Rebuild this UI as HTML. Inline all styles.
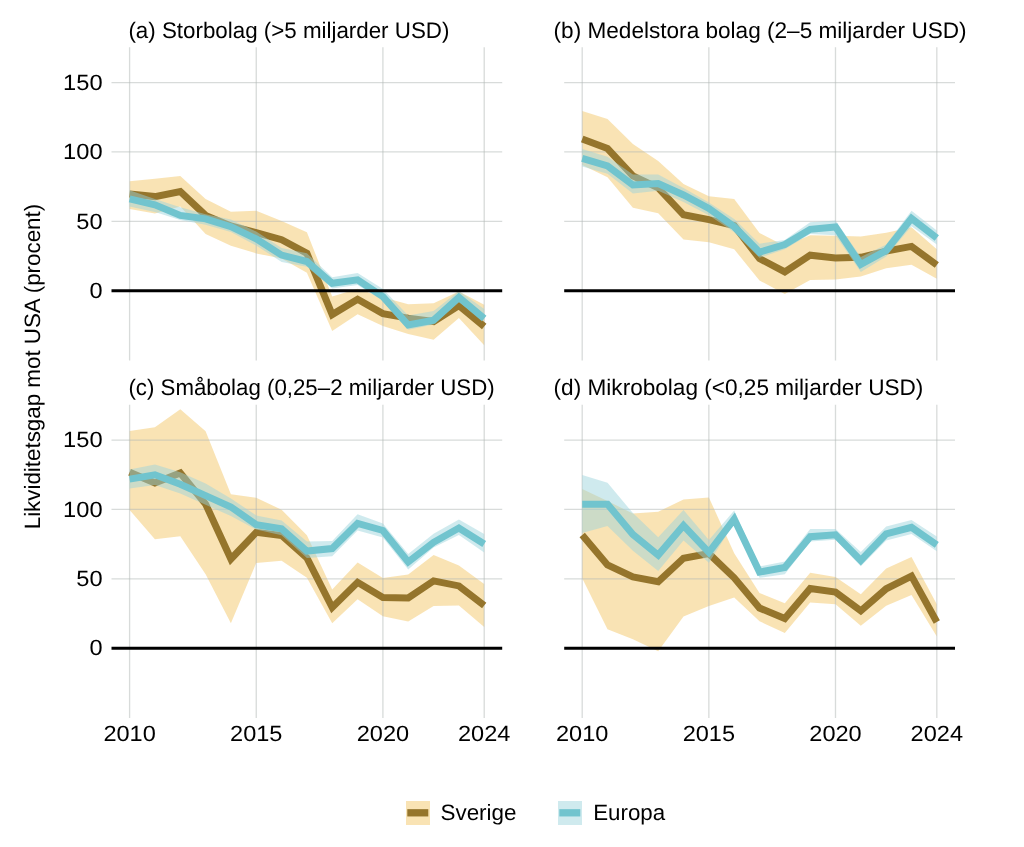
<!DOCTYPE html>
<html><head><meta charset="utf-8"><style>
html,body{margin:0;padding:0;background:#fff;}
svg{display:block;will-change:transform;}
text{font-family:'Liberation Sans',sans-serif;font-size:22.2px;fill:#000;text-rendering:geometricPrecision;}
</style></head><body>
<svg width="1024" height="847" viewBox="0 0 1024 847">
<rect width="1024" height="847" fill="#fff"/>
<polygon points="129.6,181.2 154.9,178.8 180.3,176.1 205.6,199.0 230.9,211.8 256.2,210.8 281.6,221.1 306.9,232.2 332.2,296.6 357.6,288.7 382.9,297.2 408.2,304.2 433.6,303.3 458.9,291.5 484.2,304.7 484.2,345.2 458.9,317.9 433.6,339.8 408.2,334.0 382.9,325.9 357.6,314.2 332.2,331.1 306.9,272.7 281.6,258.6 256.2,253.4 230.9,245.8 205.6,234.1 180.3,206.6 154.9,213.6 129.6,209.0" fill="rgba(242,192,88,0.45)"/>
<line x1="111.5" x2="502.2" y1="82.58" y2="82.58" stroke="rgba(178,184,181,0.5)" stroke-width="1.3"/>
<line x1="111.5" x2="502.2" y1="151.97" y2="151.97" stroke="rgba(178,184,181,0.5)" stroke-width="1.3"/>
<line x1="111.5" x2="502.2" y1="221.36" y2="221.36" stroke="rgba(178,184,181,0.5)" stroke-width="1.3"/>
<line x1="129.60" x2="129.60" y1="47.3" y2="360.4" stroke="rgba(178,184,181,0.5)" stroke-width="1.3"/>
<line x1="256.25" x2="256.25" y1="47.3" y2="360.4" stroke="rgba(178,184,181,0.5)" stroke-width="1.3"/>
<line x1="382.90" x2="382.90" y1="47.3" y2="360.4" stroke="rgba(178,184,181,0.5)" stroke-width="1.3"/>
<line x1="484.22" x2="484.22" y1="47.3" y2="360.4" stroke="rgba(178,184,181,0.5)" stroke-width="1.3"/>
<polyline points="129.6,194.0 154.9,196.6 180.3,191.5 205.6,215.4 230.9,226.0 256.2,232.6 281.6,239.7 306.9,253.3 332.2,314.6 357.6,299.3 382.9,313.6 408.2,318.1 433.6,321.5 458.9,305.6 484.2,326.5" fill="none" stroke="#95752c" stroke-width="7" stroke-linejoin="miter" stroke-miterlimit="10"/>
<polygon points="129.6,190.2 154.9,199.0 180.3,207.2 205.6,214.2 230.9,219.5 256.2,231.5 281.6,247.9 306.9,253.3 332.2,277.2 357.6,273.1 382.9,289.0 408.2,315.4 433.6,311.0 458.9,291.0 484.2,309.1 484.2,320.8 458.9,302.2 433.6,324.5 408.2,329.8 382.9,300.7 357.6,284.9 332.2,288.4 306.9,266.8 281.6,261.9 256.2,245.5 230.9,232.0 205.6,224.8 180.3,220.1 154.9,211.9 129.6,206.6" fill="rgba(155,211,220,0.48)"/>
<polyline points="129.6,198.8 154.9,204.8 180.3,215.4 205.6,218.9 230.9,226.7 256.2,238.9 281.6,255.1 306.9,261.5 332.2,283.3 357.6,279.8 382.9,296.6 408.2,325.0 433.6,320.2 458.9,297.3 484.2,318.5" fill="none" stroke="#71c4ce" stroke-width="7" stroke-linejoin="miter" stroke-miterlimit="10"/>
<line x1="111.5" x2="502.2" y1="290.75" y2="290.75" stroke="#000" stroke-width="3"/>
<polygon points="582.2,111.1 607.5,119.1 632.9,143.9 658.2,160.9 683.5,184.0 708.9,196.2 734.2,199.0 759.5,233.0 784.8,246.0 810.2,235.2 835.5,235.7 860.8,236.5 886.2,232.8 911.5,227.3 936.8,249.3 936.8,278.8 911.5,264.7 886.2,268.2 860.8,276.5 835.5,279.4 810.2,280.0 784.8,294.0 759.5,280.5 734.2,249.3 708.9,242.3 683.5,239.4 658.2,213.3 632.9,207.7 607.5,177.2 582.2,165.0" fill="rgba(242,192,88,0.45)"/>
<line x1="564.2" x2="955.0" y1="82.58" y2="82.58" stroke="rgba(178,184,181,0.5)" stroke-width="1.3"/>
<line x1="564.2" x2="955.0" y1="151.97" y2="151.97" stroke="rgba(178,184,181,0.5)" stroke-width="1.3"/>
<line x1="564.2" x2="955.0" y1="221.36" y2="221.36" stroke="rgba(178,184,181,0.5)" stroke-width="1.3"/>
<line x1="582.20" x2="582.20" y1="47.3" y2="360.4" stroke="rgba(178,184,181,0.5)" stroke-width="1.3"/>
<line x1="708.85" x2="708.85" y1="47.3" y2="360.4" stroke="rgba(178,184,181,0.5)" stroke-width="1.3"/>
<line x1="835.50" x2="835.50" y1="47.3" y2="360.4" stroke="rgba(178,184,181,0.5)" stroke-width="1.3"/>
<line x1="936.82" x2="936.82" y1="47.3" y2="360.4" stroke="rgba(178,184,181,0.5)" stroke-width="1.3"/>
<polyline points="582.2,139.0 607.5,148.5 632.9,175.8 658.2,187.8 683.5,214.8 708.9,219.6 734.2,225.5 759.5,258.6 784.8,271.9 810.2,255.2 835.5,258.0 860.8,257.3 886.2,251.1 911.5,246.4 936.8,265.0" fill="none" stroke="#95752c" stroke-width="7" stroke-linejoin="miter" stroke-miterlimit="10"/>
<polygon points="582.2,148.9 607.5,156.7 632.9,174.4 658.2,174.4 683.5,188.0 708.9,202.6 734.2,218.9 759.5,243.7 784.8,239.9 810.2,222.2 835.5,220.4 860.8,257.0 886.2,244.6 911.5,210.7 936.8,230.4 936.8,244.6 911.5,226.3 886.2,256.4 860.8,272.0 835.5,235.2 810.2,234.0 784.8,249.3 759.5,257.8 734.2,232.3 708.9,215.3 683.5,202.0 658.2,190.7 632.9,193.5 607.5,173.7 582.2,166.6" fill="rgba(155,211,220,0.48)"/>
<polyline points="582.2,158.4 607.5,165.9 632.9,185.0 658.2,183.6 683.5,195.0 708.9,208.5 734.2,226.7 759.5,252.2 784.8,244.6 810.2,229.3 835.5,226.9 860.8,264.5 886.2,250.5 911.5,218.4 936.8,238.0" fill="none" stroke="#71c4ce" stroke-width="7" stroke-linejoin="miter" stroke-miterlimit="10"/>
<line x1="564.2" x2="955.0" y1="290.75" y2="290.75" stroke="#000" stroke-width="3"/>
<polygon points="129.6,430.9 154.9,427.2 180.3,409.2 205.6,431.2 230.9,494.2 256.2,497.7 281.6,509.8 306.9,535.3 332.2,589.5 357.6,562.4 382.9,578.0 408.2,574.6 433.6,555.1 458.9,565.6 484.2,584.0 484.2,627.0 458.9,605.5 433.6,606.0 408.2,621.4 382.9,616.3 357.6,599.3 332.2,623.3 306.9,577.8 281.6,560.8 256.2,562.9 230.9,623.2 205.6,574.3 180.3,536.3 154.9,539.3 129.6,510.0" fill="rgba(242,192,88,0.45)"/>
<line x1="111.5" x2="502.2" y1="440.08" y2="440.08" stroke="rgba(178,184,181,0.5)" stroke-width="1.3"/>
<line x1="111.5" x2="502.2" y1="509.47" y2="509.47" stroke="rgba(178,184,181,0.5)" stroke-width="1.3"/>
<line x1="111.5" x2="502.2" y1="578.86" y2="578.86" stroke="rgba(178,184,181,0.5)" stroke-width="1.3"/>
<line x1="129.60" x2="129.60" y1="404.8" y2="717.9" stroke="rgba(178,184,181,0.5)" stroke-width="1.3"/>
<line x1="256.25" x2="256.25" y1="404.8" y2="717.9" stroke="rgba(178,184,181,0.5)" stroke-width="1.3"/>
<line x1="382.90" x2="382.90" y1="404.8" y2="717.9" stroke="rgba(178,184,181,0.5)" stroke-width="1.3"/>
<line x1="484.22" x2="484.22" y1="404.8" y2="717.9" stroke="rgba(178,184,181,0.5)" stroke-width="1.3"/>
<polyline points="129.6,472.3 154.9,482.9 180.3,473.0 205.6,504.0 230.9,559.0 256.2,532.4 281.6,535.5 306.9,557.9 332.2,607.5 357.6,582.3 382.9,597.6 408.2,598.0 433.6,580.9 458.9,585.9 484.2,605.5" fill="none" stroke="#95752c" stroke-width="7" stroke-linejoin="miter" stroke-miterlimit="10"/>
<polygon points="129.6,469.4 154.9,464.5 180.3,472.3 205.6,483.6 230.9,498.5 256.2,515.4 281.6,520.4 306.9,541.6 332.2,541.0 357.6,514.3 382.9,523.5 408.2,554.0 433.6,533.8 458.9,519.6 484.2,534.1 484.2,552.6 458.9,534.9 433.6,547.5 408.2,569.5 382.9,537.6 357.6,530.5 332.2,556.3 306.9,557.9 281.6,535.3 256.2,529.6 230.9,516.0 205.6,504.8 180.3,493.5 154.9,485.0 129.6,488.6" fill="rgba(155,211,220,0.48)"/>
<polyline points="129.6,479.1 154.9,474.8 180.3,484.3 205.6,495.6 230.9,507.0 256.2,524.6 281.6,528.9 306.9,551.1 332.2,548.6 357.6,523.5 382.9,530.5 408.2,562.0 433.6,542.3 458.9,528.0 484.2,544.0" fill="none" stroke="#71c4ce" stroke-width="7" stroke-linejoin="miter" stroke-miterlimit="10"/>
<line x1="111.5" x2="502.2" y1="648.25" y2="648.25" stroke="#000" stroke-width="3"/>
<polygon points="582.2,489.0 607.5,501.0 632.9,513.6 658.2,511.7 683.5,499.5 708.9,497.4 734.2,553.2 759.5,592.9 784.8,603.3 810.2,572.8 835.5,576.9 860.8,594.3 886.2,568.6 911.5,557.1 936.8,604.2 936.8,636.4 911.5,595.1 886.2,605.8 860.8,625.7 835.5,604.2 810.2,602.5 784.8,633.1 759.5,621.2 734.2,597.6 708.9,606.1 683.5,616.5 658.2,651.2 632.9,639.2 607.5,629.3 582.2,578.3" fill="rgba(242,192,88,0.45)"/>
<line x1="564.2" x2="955.0" y1="440.08" y2="440.08" stroke="rgba(178,184,181,0.5)" stroke-width="1.3"/>
<line x1="564.2" x2="955.0" y1="509.47" y2="509.47" stroke="rgba(178,184,181,0.5)" stroke-width="1.3"/>
<line x1="564.2" x2="955.0" y1="578.86" y2="578.86" stroke="rgba(178,184,181,0.5)" stroke-width="1.3"/>
<line x1="582.20" x2="582.20" y1="404.8" y2="717.9" stroke="rgba(178,184,181,0.5)" stroke-width="1.3"/>
<line x1="708.85" x2="708.85" y1="404.8" y2="717.9" stroke="rgba(178,184,181,0.5)" stroke-width="1.3"/>
<line x1="835.50" x2="835.50" y1="404.8" y2="717.9" stroke="rgba(178,184,181,0.5)" stroke-width="1.3"/>
<line x1="936.82" x2="936.82" y1="404.8" y2="717.9" stroke="rgba(178,184,181,0.5)" stroke-width="1.3"/>
<polyline points="582.2,535.1 607.5,565.0 632.9,577.0 658.2,581.7 683.5,558.2 708.9,553.6 734.2,577.8 759.5,608.0 784.8,618.5 810.2,588.5 835.5,592.1 860.8,610.8 886.2,588.8 911.5,576.1 936.8,622.0" fill="none" stroke="#95752c" stroke-width="7" stroke-linejoin="miter" stroke-miterlimit="10"/>
<polygon points="582.2,474.9 607.5,482.7 632.9,513.1 658.2,537.2 683.5,510.0 708.9,540.0 734.2,510.6 759.5,566.4 784.8,561.4 810.2,529.0 835.5,529.0 860.8,552.0 886.2,526.5 911.5,519.9 936.8,536.4 936.8,551.3 911.5,533.9 886.2,540.5 860.8,566.2 835.5,539.7 810.2,541.4 784.8,574.2 759.5,577.8 734.2,522.9 708.9,562.7 683.5,540.4 658.2,571.0 632.9,550.7 607.5,525.9 582.2,533.0" fill="rgba(155,211,220,0.48)"/>
<polyline points="582.2,504.2 607.5,504.2 632.9,534.4 658.2,555.1 683.5,525.5 708.9,552.3 734.2,519.1 759.5,572.1 784.8,567.5 810.2,536.7 835.5,534.8 860.8,560.5 886.2,533.9 911.5,527.3 936.8,544.8" fill="none" stroke="#71c4ce" stroke-width="7" stroke-linejoin="miter" stroke-miterlimit="10"/>
<line x1="564.2" x2="955.0" y1="648.25" y2="648.25" stroke="#000" stroke-width="3"/>
<text x="128.4" y="37.5" text-anchor="start" textLength="321.0" lengthAdjust="spacingAndGlyphs" style="font-size:22.6px">(a) Storbolag (&gt;5 miljarder USD)</text>
<text x="553.6" y="37.5" text-anchor="start" textLength="413.0" lengthAdjust="spacingAndGlyphs" style="font-size:22.6px">(b) Medelstora bolag (2–5 miljarder USD)</text>
<text x="128.4" y="395.0" text-anchor="start" textLength="366.3" lengthAdjust="spacingAndGlyphs" style="font-size:22.6px">(c) Småbolag (0,25–2 miljarder USD)</text>
<text x="553.6" y="395.0" text-anchor="start" textLength="369.8" lengthAdjust="spacingAndGlyphs" style="font-size:22.6px">(d) Mikrobolag (&lt;0,25 miljarder USD)</text>
<text x="102.6" y="89.78" text-anchor="end" textLength="39.5" lengthAdjust="spacingAndGlyphs" style="font-size:22px">150</text>
<text x="102.6" y="159.17" text-anchor="end" textLength="39.5" lengthAdjust="spacingAndGlyphs" style="font-size:22px">100</text>
<text x="102.6" y="228.56" text-anchor="end" textLength="26.3" lengthAdjust="spacingAndGlyphs" style="font-size:22px">50</text>
<text x="102.6" y="297.95" text-anchor="end" textLength="13.1" lengthAdjust="spacingAndGlyphs" style="font-size:22px">0</text>
<text x="102.6" y="447.28" text-anchor="end" textLength="39.5" lengthAdjust="spacingAndGlyphs" style="font-size:22px">150</text>
<text x="102.6" y="516.67" text-anchor="end" textLength="39.5" lengthAdjust="spacingAndGlyphs" style="font-size:22px">100</text>
<text x="102.6" y="586.06" text-anchor="end" textLength="26.3" lengthAdjust="spacingAndGlyphs" style="font-size:22px">50</text>
<text x="102.6" y="655.45" text-anchor="end" textLength="13.1" lengthAdjust="spacingAndGlyphs" style="font-size:22px">0</text>
<text x="129.60" y="741.4" text-anchor="middle" textLength="52.4" lengthAdjust="spacingAndGlyphs" style="font-size:22px">2010</text>
<text x="256.25" y="741.4" text-anchor="middle" textLength="52.4" lengthAdjust="spacingAndGlyphs" style="font-size:22px">2015</text>
<text x="382.90" y="741.4" text-anchor="middle" textLength="52.4" lengthAdjust="spacingAndGlyphs" style="font-size:22px">2020</text>
<text x="484.22" y="741.4" text-anchor="middle" textLength="52.4" lengthAdjust="spacingAndGlyphs" style="font-size:22px">2024</text>
<text x="582.20" y="741.4" text-anchor="middle" textLength="52.4" lengthAdjust="spacingAndGlyphs" style="font-size:22px">2010</text>
<text x="708.85" y="741.4" text-anchor="middle" textLength="52.4" lengthAdjust="spacingAndGlyphs" style="font-size:22px">2015</text>
<text x="835.50" y="741.4" text-anchor="middle" textLength="52.4" lengthAdjust="spacingAndGlyphs" style="font-size:22px">2020</text>
<text x="936.82" y="741.4" text-anchor="middle" textLength="52.4" lengthAdjust="spacingAndGlyphs" style="font-size:22px">2024</text>
<text transform="translate(40,529.3) rotate(-90)" x="0" y="0" textLength="325.5" lengthAdjust="spacingAndGlyphs">Likviditetsgap mot USA (procent)</text>
<rect x="406" y="801" width="24" height="24" fill="rgba(242,192,88,0.45)"/>
<line x1="407.3" x2="428.3" y1="812.8" y2="812.8" stroke="#95752c" stroke-width="7.3"/>
<text x="440.5" y="820" text-anchor="start" textLength="76" lengthAdjust="spacingAndGlyphs" style="font-size:22.2px">Sverige</text>
<rect x="558" y="801" width="24" height="24" fill="rgba(155,211,220,0.48)"/>
<line x1="559.3" x2="580.3" y1="812.8" y2="812.8" stroke="#71c4ce" stroke-width="7.3"/>
<text x="593.2" y="820" text-anchor="start" textLength="72" lengthAdjust="spacingAndGlyphs" style="font-size:22.2px">Europa</text>
</svg>
</body></html>
